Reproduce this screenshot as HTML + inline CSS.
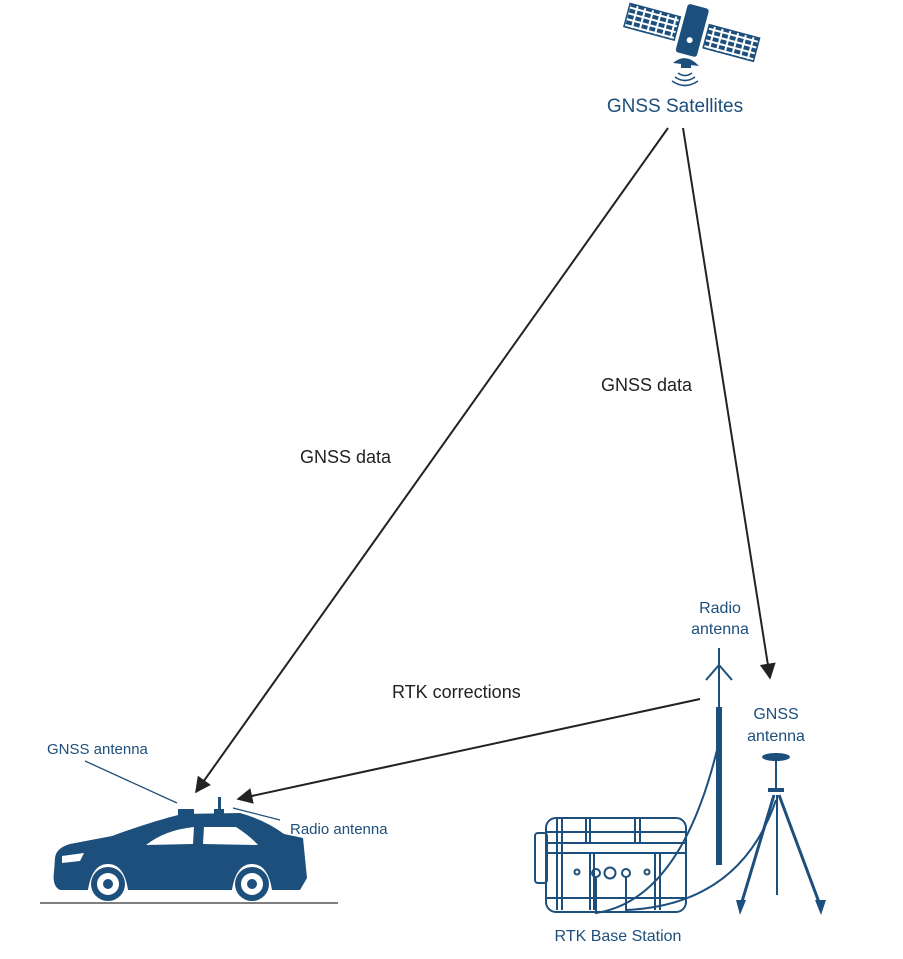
<!DOCTYPE html>
<html><head><meta charset="utf-8"><style>
html,body{margin:0;padding:0;background:#fff;}
svg{display:block;font-family:"Liberation Sans",sans-serif;}
</style></head><body>
<svg width="903" height="959" viewBox="0 0 903 959" xmlns="http://www.w3.org/2000/svg">
<defs>
<marker id="ah" viewBox="0 0 10 10" refX="9" refY="5" markerWidth="8" markerHeight="8" orient="auto"><path d="M0,0 L10,5 L0,10 z" fill="#222"/></marker>
<pattern id="grid" width="8" height="6" patternUnits="userSpaceOnUse"><rect width="8" height="6" fill="#fff"/><rect x="1" y="1" width="6" height="4" fill="#1d4f7c"/></pattern>
</defs>
<!-- satellite -->
<g fill="#1d4f7c">
<g transform="rotate(15 690 35)">
<rect x="624" y="20" width="52" height="24" fill="url(#grid)" stroke="#1d4f7c" stroke-width="1.5"/>
<rect x="706" y="20" width="52" height="24" fill="url(#grid)" stroke="#1d4f7c" stroke-width="1.5"/>
<rect x="680" y="5" width="22" height="50" rx="3"/>
<circle cx="691" cy="40" r="3" fill="#fff"/>
</g>
<path d="M673,63 Q686,52 699,66 Z"/>
<rect x="681" y="62" width="10" height="6"/>
</g>
<g fill="none" stroke="#1d4f7c" stroke-width="1.6">
<path d="M678,73 Q685,78 692,73"/><path d="M675,77 Q685,84 695,77"/><path d="M672,81 Q685,90 698,81"/>
</g>
<text x="675" y="112" font-size="19" fill="#1d4f7c" text-anchor="middle">GNSS Satellites</text>
<!-- arrows -->
<line x1="668" y1="128" x2="196" y2="792" stroke="#222" stroke-width="2" marker-end="url(#ah)"/>
<line x1="683" y1="128" x2="770" y2="678" stroke="#222" stroke-width="2" marker-end="url(#ah)"/>
<line x1="700" y1="699" x2="238" y2="799" stroke="#222" stroke-width="2" marker-end="url(#ah)"/>
<text x="300" y="463" font-size="18" fill="#222">GNSS data</text>
<text x="601" y="391" font-size="18" fill="#222">GNSS data</text>
<text x="392" y="698" font-size="18" fill="#222">RTK corrections</text>
<!-- car -->
<g fill="#1d4f7c">
<path d="M55,858 Q56,848 70,844 L112,836 Q150,822 182,814 L240,813 Q265,820 284,834 L303,838 L307,878 L300,890 L272,890 Q268,864 252,864 Q236,864 232,890 L128,890 Q124,864 108,864 Q92,864 88,890 L60,890 Q52,886 54,872 Z"/>
<rect x="178" y="809" width="16" height="6"/>
<rect x="218" y="797" width="3" height="15"/>
<rect x="214" y="809" width="10" height="5"/>
<circle cx="108" cy="884" r="17"/><circle cx="252" cy="884" r="17"/>
</g>
<g fill="#fff">
<path d="M146,845 Q165,830 194,827 L193,844 Z"/>
<path d="M204,827 L236,827 Q250,836 258,845 L203,844 Z"/>
<path d="M62,856 L84,853 L80,861 L62,863 Z"/>
<circle cx="108" cy="884" r="11"/><circle cx="252" cy="884" r="11"/>
</g>
<g fill="#1d4f7c"><circle cx="108" cy="884" r="5"/><circle cx="252" cy="884" r="5"/></g>
<line x1="40" y1="903" x2="338" y2="903" stroke="#555" stroke-width="1.5"/>
<text x="47" y="754" font-size="15" fill="#1d4f7c">GNSS antenna</text>
<line x1="85" y1="761" x2="177" y2="803" stroke="#1d4f7c" stroke-width="1.3"/>
<text x="290" y="834" font-size="15" fill="#1d4f7c">Radio antenna</text>
<line x1="280" y1="820" x2="233" y2="808" stroke="#1d4f7c" stroke-width="1.3"/>
<!-- radio antenna mast -->
<g stroke="#1d4f7c" fill="none" stroke-width="2">
<line x1="719" y1="648" x2="719" y2="865"/>
<path d="M706,680 L719,665 L732,680"/>
</g>
<rect x="716" y="707" width="6" height="158" fill="#1d4f7c"/>
<text x="720" y="613" font-size="16" fill="#1d4f7c" text-anchor="middle">Radio</text>
<text x="720" y="634" font-size="16" fill="#1d4f7c" text-anchor="middle">antenna</text>
<text x="776" y="719" font-size="16" fill="#1d4f7c" text-anchor="middle">GNSS</text>
<text x="776" y="741" font-size="16" fill="#1d4f7c" text-anchor="middle">antenna</text>
<!-- tripod -->
<g fill="#1d4f7c" stroke="#1d4f7c">
<ellipse cx="776" cy="757" rx="14" ry="4" stroke="none"/>
<line x1="776" y1="760" x2="776" y2="790" stroke-width="2"/>
<rect x="768" y="788" width="16" height="4" stroke="none"/>
<line x1="774" y1="795" x2="741" y2="905" stroke-width="3"/>
<line x1="779" y1="795" x2="820" y2="905" stroke-width="3"/>
<line x1="777" y1="795" x2="777" y2="895" stroke-width="2"/>
<path d="M736,900 L746,900 L740,915 Z" stroke="none"/>
<path d="M815,900 L826,900 L821,915 Z" stroke="none"/>
</g>
<!-- case -->
<g fill="none" stroke="#1d4f7c" stroke-width="2">
<rect x="546" y="818" width="140" height="94" rx="10"/>
<rect x="535" y="833" width="12" height="50" rx="3"/>
<line x1="546" y1="832" x2="686" y2="832"/>
<line x1="546" y1="843" x2="686" y2="843"/>
<line x1="546" y1="853" x2="686" y2="853"/>
<line x1="557" y1="818" x2="557" y2="910"/><line x1="562" y1="818" x2="562" y2="910"/>
<line x1="586" y1="818" x2="586" y2="843"/><line x1="590" y1="818" x2="590" y2="843"/>
<line x1="635" y1="818" x2="635" y2="843"/><line x1="640" y1="818" x2="640" y2="843"/>
<line x1="590" y1="853" x2="590" y2="910"/><line x1="594" y1="853" x2="594" y2="910"/>
<line x1="655" y1="853" x2="655" y2="910"/><line x1="660" y1="853" x2="660" y2="910"/>
<line x1="546" y1="898" x2="686" y2="898"/>
<circle cx="577" cy="872" r="2.5"/><circle cx="596" cy="873" r="4"/><circle cx="610" cy="873" r="5.5"/><circle cx="626" cy="873" r="4"/><circle cx="647" cy="872" r="2.5"/>
<path d="M596,877 L596,913 Q680,900 717,750"/>
<path d="M626,877 L626,910 Q740,905 776,800"/>
</g>
<text x="618" y="941" font-size="16" fill="#1d4f7c" text-anchor="middle">RTK Base Station</text>
</svg>
</body></html>
